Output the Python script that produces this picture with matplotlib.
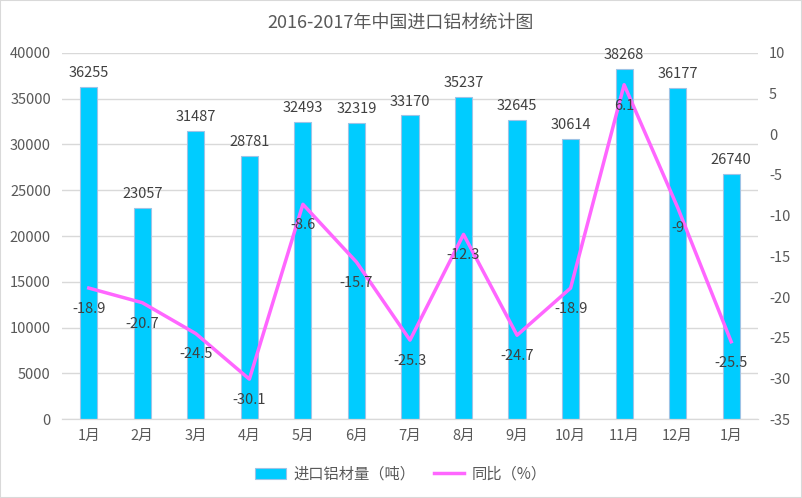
import numpy as np
import matplotlib
matplotlib.use('Agg')
import matplotlib.pyplot as plt
from matplotlib.patches import Rectangle, Patch
from matplotlib.lines import Line2D

plt.rcParams['font.family'] = ['Noto Sans CJK SC', 'DejaVu Sans']
plt.rcParams['axes.unicode_minus'] = False

# data
months = ['1月', '2月', '3月', '4月', '5月', '6月', '7月', '8月', '9月', '10月', '11月', '12月', '1月']
imports = [36255, 23057, 31487, 28781, 32493, 32319, 33170, 35237, 32645, 30614, 38268, 36177, 26740]
yoy = [-18.9, -20.7, -24.5, -30.1, -8.6, -15.7, -25.3, -12.3, -24.7, -18.9, 6.1, -9, -25.5]

bar_color = '#00CCFF'
line_color = '#FF66FF'
text_color = '#595959'
grid_color = '#D9D9D9'

fig = plt.figure(figsize=(8.02, 4.98), dpi=100)
ax = fig.add_axes([0.0773, 0.1586, 0.8678, 0.735])
ax2 = ax.twinx()

x = np.arange(len(months))
ax.bar(x, imports, width=0.32, color=bar_color, edgecolor='#9DC3E6', linewidth=0.8, zorder=2)
ax2.plot(x, yoy, color=line_color, linewidth=2.5, zorder=3)

# labels
for xi, v in zip(x, imports):
    ax.annotate(str(v), (xi, v), xytext=(0, 5), textcoords='offset points',
                ha='center', va='bottom', fontsize=10.5, color='#404040')
for xi, v in zip(x, yoy):
    ax2.annotate('%g' % v, (xi, v), xytext=(0, -15), textcoords='offset points',
                 ha='center', va='center', fontsize=10.5, color='#404040')

ax.set_xlim(-0.5, len(months) - 0.5)
ax.set_ylim(0, 40000)
ax.set_yticks(np.arange(0, 40001, 5000))
ax2.set_ylim(-35, 10)
ax2.set_yticks(np.arange(-35, 11, 5))
ax.set_xticks(x)
ax.set_xticklabels(months)

ax.grid(axis='y', color=grid_color, linewidth=1, zorder=0)
ax.set_axisbelow(True)
for a in (ax, ax2):
    for s in ('top', 'left', 'right'):
        a.spines[s].set_visible(False)
    a.spines['bottom'].set_color(grid_color)
    a.tick_params(length=0, labelsize=10.5, labelcolor=text_color)
ax.tick_params(axis='y', pad=8)
ax.tick_params(axis='x', pad=7)
ax2.tick_params(axis='y', pad=8)

fig.text(0.5, 0.955, '2016-2017年中国进口铝材统计图', ha='center', va='center',
         fontsize=13, color=text_color)

handles = [Patch(facecolor=bar_color, edgecolor='#9DC3E6', linewidth=0.8),
           Line2D([0], [0], color=line_color, linewidth=2.5)]
fig.legend(handles, ['进口铝材量（吨）', '同比（%）'], loc='center', bbox_to_anchor=(0.5, 0.048),
           ncol=2, frameon=False, fontsize=11, labelcolor=text_color,
           handlelength=2.0, handletextpad=0.5, columnspacing=1.2)

fig.patches.append(Rectangle((0, 0), 1, 1, transform=fig.transFigure, fill=False,
                             edgecolor='#D9D9D9', linewidth=1.5))

fig.savefig('out.png', dpi=100)
